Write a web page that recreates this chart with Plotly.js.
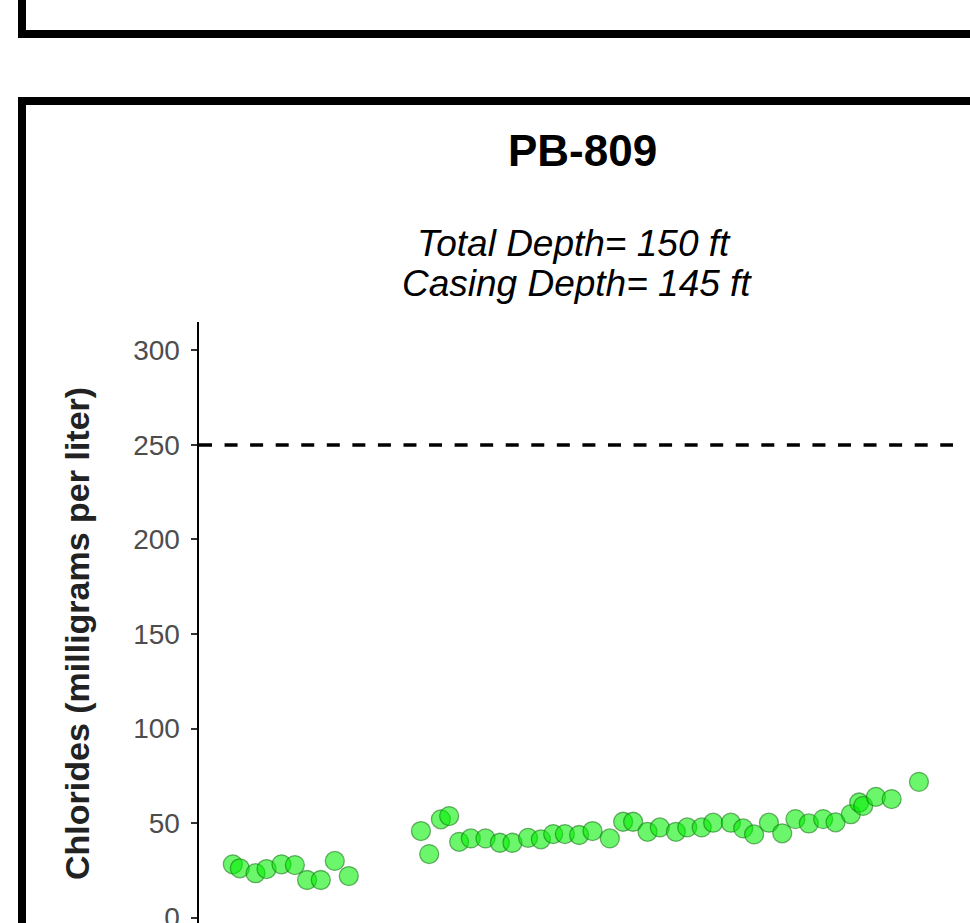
<!DOCTYPE html>
<html>
<head>
<meta charset="utf-8">
<script src="https://cdn.plot.ly/plotly-3.0.1.min.js"></script>
<style>
html,body{margin:0;padding:0;overflow:hidden;background:#fff;}
#chart{width:1000px;height:1000px;}
</style>
</head>
<body>
<div id="chart"></div>
<script>
// Sample dates (x axis is below the visible crop)
const sampleDates = [
  "2005-10-23","2005-12-23","2006-05-09","2006-08-13","2006-12-21","2007-04-17","2007-08-01","2007-11-29","2008-03-30","2008-07-30",
  "2010-04-20","2010-07-01","2010-10-11","2010-12-22","2011-03-19","2011-06-29","2011-11-04","2012-03-08","2012-06-26","2012-11-09",
  "2013-03-01","2013-06-16","2013-09-26","2014-01-28","2014-05-25",
  "2014-10-23","2015-02-16","2015-05-14","2015-09-17","2016-01-02","2016-05-21","2016-08-28","2017-01-01","2017-04-11","2017-09-12",
  "2017-12-29","2018-04-03","2018-08-10","2018-12-04",
  "2019-03-29","2019-07-24","2019-11-26","2020-03-13","2020-07-24","2020-10-05","2020-11-09","2021-02-28","2021-07-15","2022-03-10"
];
// Chloride concentrations (mg/L)
const chlorides = [
  28.2,26.1,23.5,25.7,28.2,27.8,19.9,19.9,30.0,22.0,
  45.8,33.6,52.0,53.7,40.1,41.9,41.9,39.6,39.6,42.2,
  41.4,44.2,44.2,43.7,45.8,
  41.9,50.7,50.7,45.4,47.7,45.4,47.7,47.7,50.2,50.2,
  47.2,44.0,50.2,44.6,
  52.1,49.8,52.1,50.4,54.7,60.9,59.1,63.9,62.7,71.8
];
const yTicks = [0, 50, 100, 150, 200, 250, 300];
const limitValue = [250];
const wellName = "PB-809";
const subtitleLines = ["Total Depth= 150 ft", "Casing Depth= 145 ft"];
const yTitle = "Chlorides (milligrams per liter)";

// geometry helpers (paper coords relative to plot area)
const W = 1000, H = 1000, L = 199, R = 953, T = 322, B = 946;
const px = v => (v - L) / (R - L);
const py = v => (B - v) / (B - T);

const FONT = "Liberation Sans, Arial, Helvetica, sans-serif";

const trace = {
  x: sampleDates,
  y: chlorides,
  type: "scatter",
  mode: "markers",
  marker: {
    size: 19,
    color: "rgba(0,240,0,0.58)",
    line: {color: "rgba(20,110,20,0.55)", width: 1.3}
  },
  hoverinfo: "x+y",
  showlegend: false
};

const layout = {
  width: W, height: H,
  margin: {l: L, r: W - R, t: T, b: H - B, pad: 0},
  paper_bgcolor: "#ffffff",
  plot_bgcolor: "#ffffff",
  showlegend: false,
  xaxis: {
    type: "date",
    range: ["2005-01-01", "2023-01-01"],
    showgrid: false, zeroline: false,
    showline: true, linecolor: "#000", linewidth: 2,
    ticks: "", showticklabels: false
  },
  yaxis: {
    range: [-15, 315],
    tickvals: yTicks,
    ticktext: yTicks.map(String),
    showgrid: false, zeroline: false,
    showline: true, linecolor: "#000", linewidth: 2.5,
    ticks: "outside", ticklen: 6, tickwidth: 2, tickcolor: "#333",
    ticklabelstandoff: 5,
    tickfont: {family: FONT, size: 28, color: "#4d4d4d"}
  },
  shapes: [
    {type: "line", xref: "paper", yref: "y", x0: 0, x1: 1, y0: limitValue[0], y1: limitValue[0],
     line: {color: "#000", width: 3.5, dash: "13px,12.56px"}},
    {type: "rect", xref: "paper", yref: "paper", x0: px(22), x1: px(1100), y0: py(-100), y1: py(34),
     line: {color: "#000", width: 8}, fillcolor: "rgba(0,0,0,0)"},
    {type: "rect", xref: "paper", yref: "paper", x0: px(22), x1: px(1100), y0: py(101), y1: py(1100),
     line: {color: "#000", width: 8}, fillcolor: "rgba(0,0,0,0)"}
  ],
  annotations: [
    {text: "<b>" + wellName + "</b>", xref: "paper", yref: "paper", x: px(582), y: py(150),
     xanchor: "center", yanchor: "middle", showarrow: false,
     font: {family: FONT, size: 44, color: "#000"}},
    {text: "<i>" + subtitleLines[0] + "</i>", xref: "paper", yref: "paper", x: px(574), y: py(243),
     xanchor: "center", yanchor: "middle", showarrow: false,
     font: {family: FONT, size: 37, color: "#000"}},
    {text: "<i>" + subtitleLines[1] + "</i>", xref: "paper", yref: "paper", x: px(577), y: py(283),
     xanchor: "center", yanchor: "middle", showarrow: false,
     font: {family: FONT, size: 37, color: "#000"}},
    {text: "<b>" + yTitle + "</b>", xref: "paper", yref: "paper", x: px(77), y: py(634),
     xanchor: "center", yanchor: "middle", textangle: -90, showarrow: false,
     font: {family: FONT, size: 34, color: "#222"}}
  ]
};

Plotly.newPlot("chart", [trace], layout, {displayModeBar: false, staticPlot: true});
</script>
</body>
</html>
